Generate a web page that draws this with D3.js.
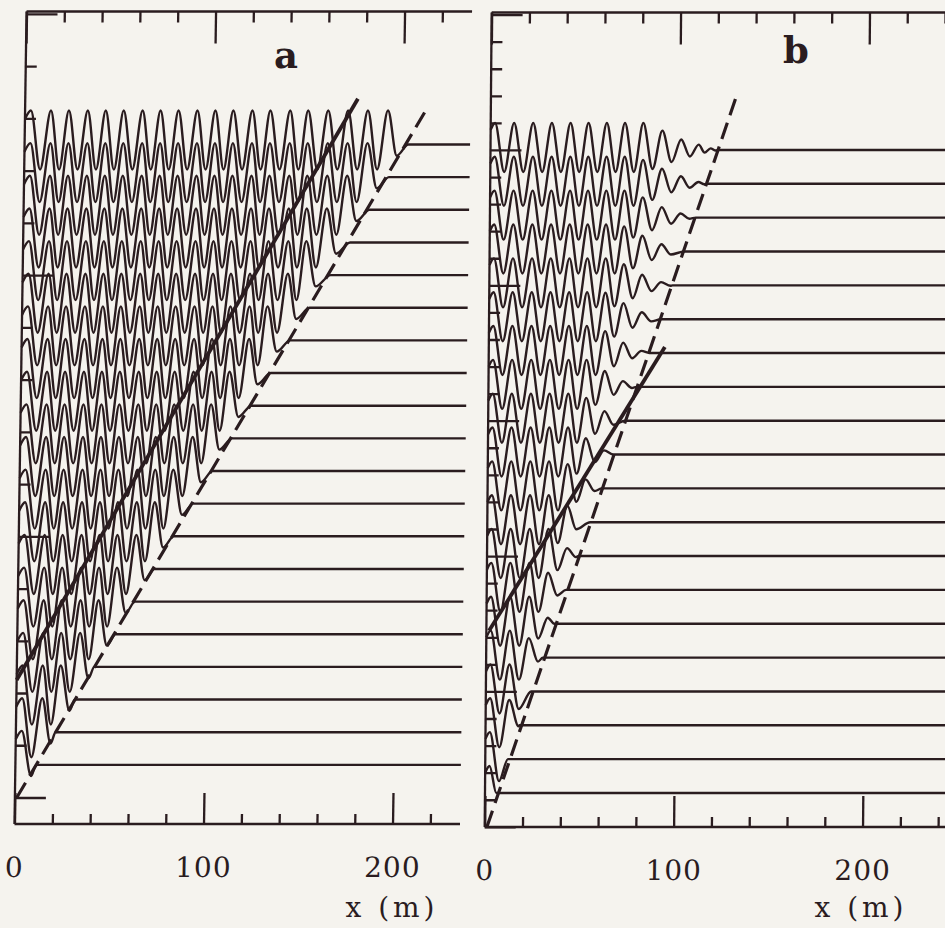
<!DOCTYPE html>
<html>
<head>
<meta charset="utf-8">
<script src="https://cdn.jsdelivr.net/npm/d3@7"></script>
<style>
body{margin:0;background:#f5f3ee}
svg{display:block}
</style>
</head>
<body>
<script>
const w=945;
const h=928;
const ink="#2a1c1f";

// panel a : trace times, wave front per trace (m), crest positions (m)
const timesA=[0.5,1,1.5,2,2.5,3,3.5,4,4.5,5,5.5,6,6.5,7,7.5,8,8.5,9,9.5,10];
const frontsA=[11,21,31,41,52,62,72,82,92,102,112,122,132,142,152,163,173,183,193,203];
const crestsA=[3.1,13.7,23.2,33.2,42.7,52.2,62.2,71.7,81.2,91.2,100.7,110.2,120.3,129.8,140.3,149.8,160.4,170.9,181.4,192.0,202.0];
const envFracA=[0,1];
const envAmpA=[1,1];
const dashA=[[0,1],[10.57,213]];     // [t, x]
const solidA=[[1.8,0],[10.7,176]];

// panel b
const timesB=[1,2,3,4,5,6,7,8,9,10,11,12,13,14,15,16,17,18,19,20];
const frontsB=[6,12,18,24,30,36,42,48.5,54.5,60.5,66.5,72.5,78.5,85,91,97,103,109,115,121];
const crestsB=[2.3,12.4,22.5,32.4,42.3,51.8,61.5,71.1,80.8,90.9,100.9,110.2,116.5,122];
const envFracB=[0,0.05,0.09,0.17,0.25,0.33];
const envAmpB=[0,0.08,0.2,0.4,0.72,1];
const dashB=[[0,1.2],[21.6,130]];
const solidB=[[5.79,1.4],[14.18,93.2]];

// crest height / trough depth (relative elevation)
const crestA=0.34, troughA=0.25;
const crestB=0.27, troughB=0.22;

// axis ticks
const xMajor=[0,100,200];
const xMinor=[20,40,60,80,120,140,160,180,220,240];
const tMajor=[0,4,8,12,16,20,24];
const tMinor=[0.8,1.6,2.4,3.2,4.8,5.6,6.4,7.2,8.8,9.6,10.4,11.2,12.8,13.6,14.4,15.2,16.8,17.6,18.4,19.2,20.8,21.6,22.4,23.2];

const svg=d3.select("body").append("svg").attr("width",w).attr("height",h);
svg.append("rect").attr("width",w).attr("height",h).attr("fill","#f5f3ee");

const panels=[
  {name:"a",times:timesA,fronts:frontsA,crests:crestsA,envFrac:envFracA,envAmp:envAmpA,
   dash:dashA,solid:solidA,crest:crestA,trough:troughA,gap:5,lastTrough:0.45,
   xMax:235.7,left:14.5,right:460,top:11.5,bottom:824,tMax:12,yRange:[797.5,13.9],skew:0.85,
   label:[286,68],xlab:[392,917]},
  {name:"b",times:timesB,fronts:frontsB,crests:crestsB,envFrac:envFracB,envAmp:envAmpB,
   dash:dashB,solid:solidB,crest:crestB,trough:troughB,gap:3,lastTrough:1,
   xMax:250,left:484.7,right:957,top:12.5,bottom:827,tMax:24,yRange:[826.8,14.6],skew:0.49,
   label:[796,63],xlab:[861,917]}
];

const eta=d3.scaleLinear().domain([0,1]).range([0,100]);

panels.forEach(P=>{
  const g=svg.append("g")
    .attr("transform",`translate(${P.left},${P.bottom}) skewX(${-P.skew}) translate(${-P.left},${-P.bottom})`);
  const x=d3.scaleLinear().domain([0,P.xMax]).range([P.left,P.right]);
  const y=d3.scaleLinear().domain([0,P.tMax]).range(P.yRange);
  const env=d3.scaleLinear().domain(P.envFrac).range(P.envAmp).clamp(true);

  // traces
  const line=d3.line().x(d=>x(d[0])).y(d=>d[1]).curve(d3.curveMonotoneX);
  P.times.forEach((t,i)=>{
    const f=P.fronts[i];
    const amp=xm=>env((f-xm)/f);
    const cs=P.crests.filter(c=>c<f-P.gap);
    const pts=[[0,P.crest*amp(0)*0.75]];
    cs.forEach((c,j)=>{
      pts.push([c,P.crest*amp(c)]);
      const cn=P.crests[P.crests.indexOf(c)+1];
      const m=(c+cn)/2;
      if(j<cs.length-1) pts.push([m,-P.trough*amp(m)]);
      else if(m<f-0.5) pts.push([m,-P.trough*amp(m)*P.lastTrough]);
    });
    pts.push([f,0],[P.xMax,0]);
    const y0=y(t);
    g.append("path")
      .attr("d",line(pts.map(p=>[p[0],y0-eta(p[1])])))
      .attr("fill","none").attr("stroke",ink).attr("stroke-width",2.4)
      .attr("stroke-linejoin","round");
  });

  // solid and dashed front lines
  const fl=d3.line().x(d=>x(d[1])).y(d=>y(d[0]));
  g.append("path").attr("d",fl(P.solid)).attr("fill","none")
    .attr("stroke",ink).attr("stroke-width",3.8);
  g.append("path").attr("d",fl(P.dash)).attr("fill","none")
    .attr("stroke",ink).attr("stroke-width",3.2).attr("stroke-dasharray","17,8");

  // frame
  const frame=g.append("g").attr("stroke",ink).attr("stroke-width",2.3);
  frame.append("line").attr("x1",P.left).attr("x2",P.left).attr("y1",P.top).attr("y2",P.bottom);
  frame.append("line").attr("x1",P.left).attr("x2",P.right).attr("y1",P.top).attr("y2",P.top);
  frame.append("line").attr("x1",P.left).attr("x2",P.right).attr("y1",P.bottom).attr("y2",P.bottom);

  const inDom=v=>v<=P.xMax;
  const styleAxis=sel=>{
    sel.select(".domain").remove();
    sel.selectAll("line").attr("stroke",ink).attr("stroke-width",2.3);
  };
  // top axis (ticks pointing down)
  g.append("g").attr("transform",`translate(0,${P.top})`)
    .call(d3.axisBottom(x).tickValues(xMinor.filter(inDom)).tickSize(11).tickFormat(""))
    .call(styleAxis);
  g.append("g").attr("transform",`translate(0,${P.top})`)
    .call(d3.axisBottom(x).tickValues(xMajor).tickSize(32).tickFormat(""))
    .call(styleAxis);
  // bottom axis (ticks pointing up)
  g.append("g").attr("transform",`translate(0,${P.bottom})`)
    .call(d3.axisTop(x).tickValues(xMinor.filter(inDom)).tickSize(10).tickFormat(""))
    .call(styleAxis);
  g.append("g").attr("transform",`translate(0,${P.bottom})`)
    .call(d3.axisTop(x).tickValues(xMajor).tickSize(31).tickFormat(""))
    .call(styleAxis);
  const lab=g.append("g").attr("transform",`translate(0,${P.bottom})`)
    .call(d3.axisBottom(x).tickValues(xMajor).tickSize(0).tickPadding(33).tickFormat(d3.format("d")));
  lab.select(".domain").remove();
  lab.selectAll("text").attr("fill",ink)
    .style("font-family","'DejaVu Serif'").style("font-size","28px").style("letter-spacing","1px");

  // left time axis
  const inT=v=>v<=P.tMax;
  g.append("g").attr("transform",`translate(${P.left},0)`)
    .call(d3.axisRight(y).tickValues(tMinor.filter(inT)).tickSize(11).tickFormat(""))
    .call(styleAxis);
  g.append("g").attr("transform",`translate(${P.left},0)`)
    .call(d3.axisRight(y).tickValues(tMajor.filter(inT)).tickSize(31).tickFormat(""))
    .call(styleAxis);

  // panel letter and axis title
  svg.append("text").attr("x",P.label[0]).attr("y",P.label[1])
    .attr("text-anchor","middle").attr("fill",ink)
    .style("font-family","'DejaVu Serif'").style("font-weight","bold").style("font-size","37px")
    .text(P.name);
  svg.append("text").attr("x",P.xlab[0]).attr("y",P.xlab[1])
    .attr("text-anchor","middle").attr("fill",ink)
    .style("font-family","'DejaVu Serif'").style("font-size","28px").style("letter-spacing","4px")
    .text("x (m)");
});
</script>
</body>
</html>
